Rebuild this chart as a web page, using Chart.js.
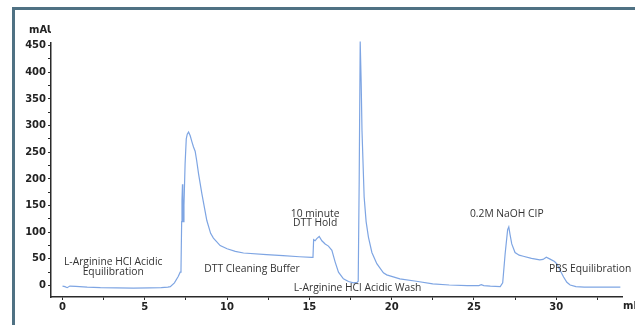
<!DOCTYPE html>
<html>
<head>
<meta charset="utf-8">
<title>Chromatogram</title>
<script src="https://cdn.jsdelivr.net/npm/chart.js@4.4.1/dist/chart.umd.min.js"></script>
<style>
    html, body { margin: 0; padding: 0; background: #fff; }
    #wrap { position: relative; width: 635px; height: 325px; overflow: hidden; }
    #frame {
        position: absolute; left: 12px; top: 7px; width: 700px; height: 400px;
        border-top: 3px solid #4f7183; border-left: 3px solid #4f7183;
        pointer-events: none;
    }
    canvas { position: absolute; left: 0; top: 0; }
</style>
</head>
<body>
<div id="wrap">
    <canvas id="chromChart" width="635" height="325"></canvas>
    <div id="frame"></div>
</div>
<script>
// UV trace: elution volume (ml) vs absorbance (mAU)
const volumeMl = [
    0, 0.15, 0.28, 0.45, 0.8, 1.5, 2.3, 3.3, 4.3, 5.3, 6.0, 6.4, 6.55, 6.8, 7.03, 7.15,
    7.2, 7.24, 7.26, 7.29, 7.31, 7.33, 7.38, 7.45, 7.52, 7.58, 7.66, 7.76, 7.86, 7.96, 8.06,
    8.15, 8.27, 8.47, 8.77, 9.0, 9.17, 9.58, 10.0, 10.5, 11.0, 12.4, 13.4, 14.4, 15.15, 15.22,
    15.26, 15.35, 15.45, 15.6, 15.76, 15.96, 16.16, 16.37, 16.57, 16.77, 17.07, 17.38, 17.68,
    17.9, 17.97, 18.03, 18.09, 18.15, 18.2, 18.33, 18.45, 18.59, 18.8, 19.1, 19.5, 19.7, 20.5,
    21.5, 22.5, 23.5, 24.6, 25.3, 25.45, 25.6, 26.0, 26.6, 26.75, 26.9, 27.05, 27.12, 27.2,
    27.3, 27.5, 27.75, 28.0, 28.5, 29.0, 29.2, 29.4, 29.6, 29.9, 30.05, 30.15, 30.45, 30.65,
    30.85, 31.2, 31.7, 33.9
];
const absorbanceMau = [
    -1, -2, -4, -1, -1.5, -3, -4, -4.5, -5, -4.5, -4, -3, -2, 5, 17, 25,
    30, 120, 160, 190, 170, 120, 150, 229, 275, 284, 288, 281, 270, 260, 252,
    235, 209, 172, 122, 98, 89, 75, 69, 64, 61, 58, 56, 54, 53, 53,
    86, 84, 88, 92, 84, 78, 74, 66, 44, 25, 12.5, 7.5, 5,
    6, 8, 200, 458, 380, 290, 166, 120, 91, 62, 41, 24, 20, 12.5,
    8, 3, 1, 0, 0, 1.5, 0, -1, -2, 5, 60, 105, 110, 95,
    78, 62, 57, 55, 51, 48, 49, 53, 50, 45, 40, 34, 16, 6,
    1, -2, -3, -3
];

// Buffer phase captions, one entry per line of text
const phaseText = [
    'L-Arginine HCl Acidic', 'Equilibration',
    'DTT Cleaning Buffer',
    '10 minute', 'DTT Hold',
    'L-Arginine HCl Acidic Wash',
    '0.2M NaOH CIP',
    'PBS Equilibration'
];
const phaseAtMl = [3.08, 3.08, 11.52, 15.35, 15.35, 17.93, 27.0, 32.06];
const phaseAtMau = [43.7, 26, 30, 135, 117, -5.6, 135, 30];

const phaseLabels = {
    id: 'phaseLabels',
    afterDatasetsDraw(chart) {
        const { ctx, scales: { x, y } } = chart;
        ctx.save();
        ctx.font = '10.3px "Open Sans", sans-serif';
        ctx.fillStyle = '#333';
        ctx.textAlign = 'center';
        ctx.textBaseline = 'middle';
        phaseText.forEach((t, i) => {
            ctx.fillText(t, x.getPixelForValue(phaseAtMl[i]), y.getPixelForValue(phaseAtMau[i]));
        });

        // axis units
        ctx.font = 'bold 10px "DejaVu Sans", sans-serif';
        ctx.fillStyle = '#222';
        ctx.save();
        ctx.beginPath();
        ctx.rect(0, 0, x.left, chart.height);
        ctx.clip();
        ctx.textAlign = 'left';
        ctx.fillText('mAU', x.left - 22, 30);
        ctx.restore();
        ctx.textAlign = 'left';
        ctx.fillText('ml', x.right + 1, 306);
        ctx.restore();
    }
};

document.addEventListener('DOMContentLoaded', () => {
    const ctx = document.getElementById('chromChart').getContext('2d');

    const chromChart = new Chart(ctx, {
        type: 'scatter',
        data: {
            datasets: [{
                label: 'UV',
                data: volumeMl.map((v, i) => ({ x: v, y: absorbanceMau[i] })),
                showLine: true,
                clip: false,
                borderColor: '#7ea5e3',
                borderWidth: 1.2,
                pointRadius: 0,
                tension: 0
            }]
        },
        options: {
            responsive: false,
            animation: false,
            layout: { padding: { top: 43, right: 13, left: 0, bottom: 0 } },
            plugins: {
                legend: { display: false },
                tooltip: { enabled: false }
            },
            scales: {
                x: {
                    type: 'linear',
                    min: -0.7,
                    max: 34,
                    afterFit: scale => { scale.height = 28; },
                    border: { color: '#2a2a2a', width: 1.5 },
                    grid: { drawOnChartArea: false, tickLength: 3, color: '#2a2a2a' },
                    ticks: {
                        stepSize: 2.5,
                        includeBounds: false,
                        maxRotation: 0,
                        autoSkip: false,
                        padding: 1,
                        color: '#222',
                        font: { family: '"DejaVu Sans", sans-serif', size: 10, weight: 'bold' },
                        callback: v => (v % 5 === 0 ? v : '')
                    }
                },
                y: {
                    min: -21.5,
                    max: 455,
                    afterFit: scale => { scale.width = 51; },
                    border: { color: '#2a2a2a', width: 1.5 },
                    grid: { drawOnChartArea: false, tickLength: 3, color: '#2a2a2a' },
                    ticks: {
                        stepSize: 25,
                        includeBounds: false,
                        autoSkip: false,
                        padding: 2,
                        color: '#222',
                        font: { family: '"DejaVu Sans", sans-serif', size: 10, weight: 'bold' },
                        callback: v => (v % 50 === 0 ? v : '')
                    }
                }
            }
        },
        plugins: [phaseLabels]
    });
});
</script>
</body>
</html>
